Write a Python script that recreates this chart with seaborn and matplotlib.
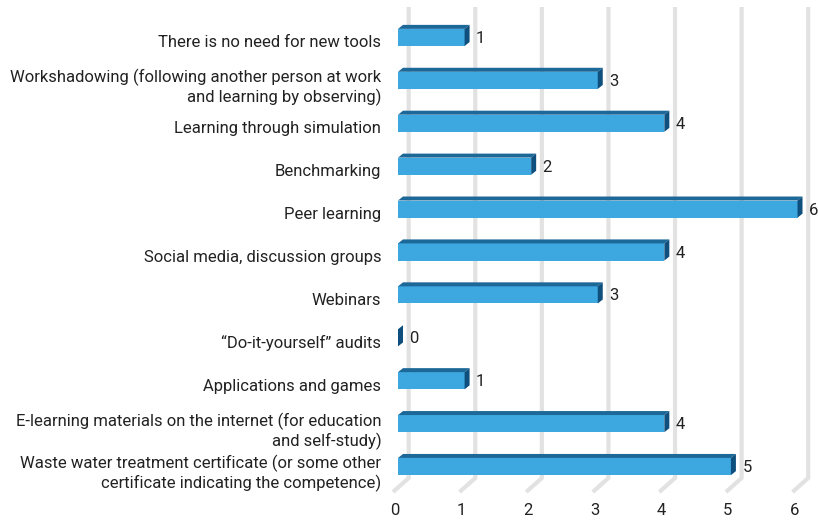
import matplotlib
matplotlib.use("Agg")
import matplotlib.pyplot as plt
import matplotlib.transforms as mtransforms
from matplotlib.patches import Polygon
from matplotlib.lines import Line2D
import seaborn as sns
import pandas as pd

categories = [
    "There is no need for new tools",
    "Workshadowing (following another person at work\nand learning by observing)",
    "Learning through simulation",
    "Benchmarking",
    "Peer learning",
    "Social media, discussion groups",
    "Webinars",
    "\u201cDo-it-yourself\u201d audits",
    "Applications and games",
    "E-learning materials on the internet (for education\nand self-study)",
    "Waste water treatment certificate (or some other\ncertificate indicating the competence)",
]
counts = [1, 3, 4, 2, 6, 4, 3, 0, 1, 4, 5]
x_ticks = [0, 1, 2, 3, 4, 5, 6]

FRONT = "#3da8df"
TOP = "#1c6899"
SIDE = "#0e4f7e"
GRID = "#e2e2e2"
TEXT = "#222222"
FS = 12

sns.set_theme(style="white")
plt.rcParams["font.family"] = ["Roboto", "DejaVu Sans"]

W, H, DPI = 818, 521, 100
fig = plt.figure(figsize=(W / DPI, H / DPI), dpi=DPI)
ax = fig.add_axes([398 / W, 1 - 488 / H, 399.5 / W, 472 / H])

df = pd.DataFrame({"tool": categories, "count": counts})
sns.barplot(data=df, x="count", y="tool", orient="h", width=0.4,
            color=FRONT, saturation=1, linewidth=0, edgecolor="none",
            ax=ax, zorder=3)

ax.set_xlim(0, 6)
ax.set_ylim(10.5, -0.5)
ax.set_xlabel("")
ax.set_ylabel("")
for s in ax.spines.values():
    s.set_visible(False)
ax.grid(False)

ident = mtransforms.IdentityTransform()

# depth of the bar boxes (pixels) and of the back wall / floor
DX, DY = 5, 4
WALL_DX = 10.7
FLOOR_DX, FLOOR_DY = -5, -14

# 3D gridlines: back wall verticals bending down to the front floor edge
y_top = ax.transData.transform((0, -0.5))[1] + 9
y_wall_bottom = ax.transData.transform((0, 10.5))[1] + 10
for t in x_ticks:
    xb = ax.transData.transform((t, 0))[0] + WALL_DX
    xs = [xb, xb, xb + FLOOR_DX - WALL_DX]
    ys = [y_top, y_wall_bottom, y_wall_bottom + FLOOR_DY]
    ln = Line2D(xs, ys, transform=ident, color=GRID, lw=3, zorder=1,
                solid_capstyle="butt", solid_joinstyle="miter")
    ln.set_clip_on(False)
    ax.add_line(ln)

# top and end faces for each bar, plus value labels
for patch, val in zip(ax.patches, counts):
    bb = patch.get_window_extent()
    x0, x1 = bb.x0, bb.x1
    yb, yt = bb.y0, bb.y1
    top = Polygon([(x0, yt), (x1, yt), (x1 + DX, yt + DY), (x0 + DX, yt + DY)],
                  closed=True, transform=ident, facecolor=TOP, edgecolor="none", zorder=4)
    end = Polygon([(x1, yb), (x1, yt), (x1 + DX, yt + DY), (x1 + DX, yb + DY)],
                  closed=True, transform=ident, facecolor=SIDE, edgecolor="none", zorder=5)
    for p in (top, end):
        p.set_clip_on(False)
        ax.add_patch(p)
    ax.annotate(f"{val}", xy=(val, patch.get_y() + patch.get_height() / 2),
                xytext=(11.5 * 0.72, -1 * 0.72), textcoords="offset points",
                ha="left", va="center", fontsize=FS, color=TEXT, zorder=6,
                annotation_clip=False)

ax.set_xticks(x_ticks)
ax.set_xticklabels([str(t) for t in x_ticks])
ax.tick_params(axis="x", length=0, pad=11, labelsize=FS, colors=TEXT)
ax.tick_params(axis="y", length=0, pad=12, labelsize=FS, colors=TEXT)

shift_y = mtransforms.ScaledTranslation(0, -4 / DPI, fig.dpi_scale_trans)
for lab in ax.get_yticklabels():
    lab.set_transform(lab.get_transform() + shift_y)
    lab.set_multialignment("right")
    lab.set_linespacing(1.2)
shift_x = mtransforms.ScaledTranslation(-3 / DPI, 0, fig.dpi_scale_trans)
for lab in ax.get_xticklabels():
    lab.set_transform(lab.get_transform() + shift_x)

fig.savefig("out.png", dpi=DPI, facecolor="white")
